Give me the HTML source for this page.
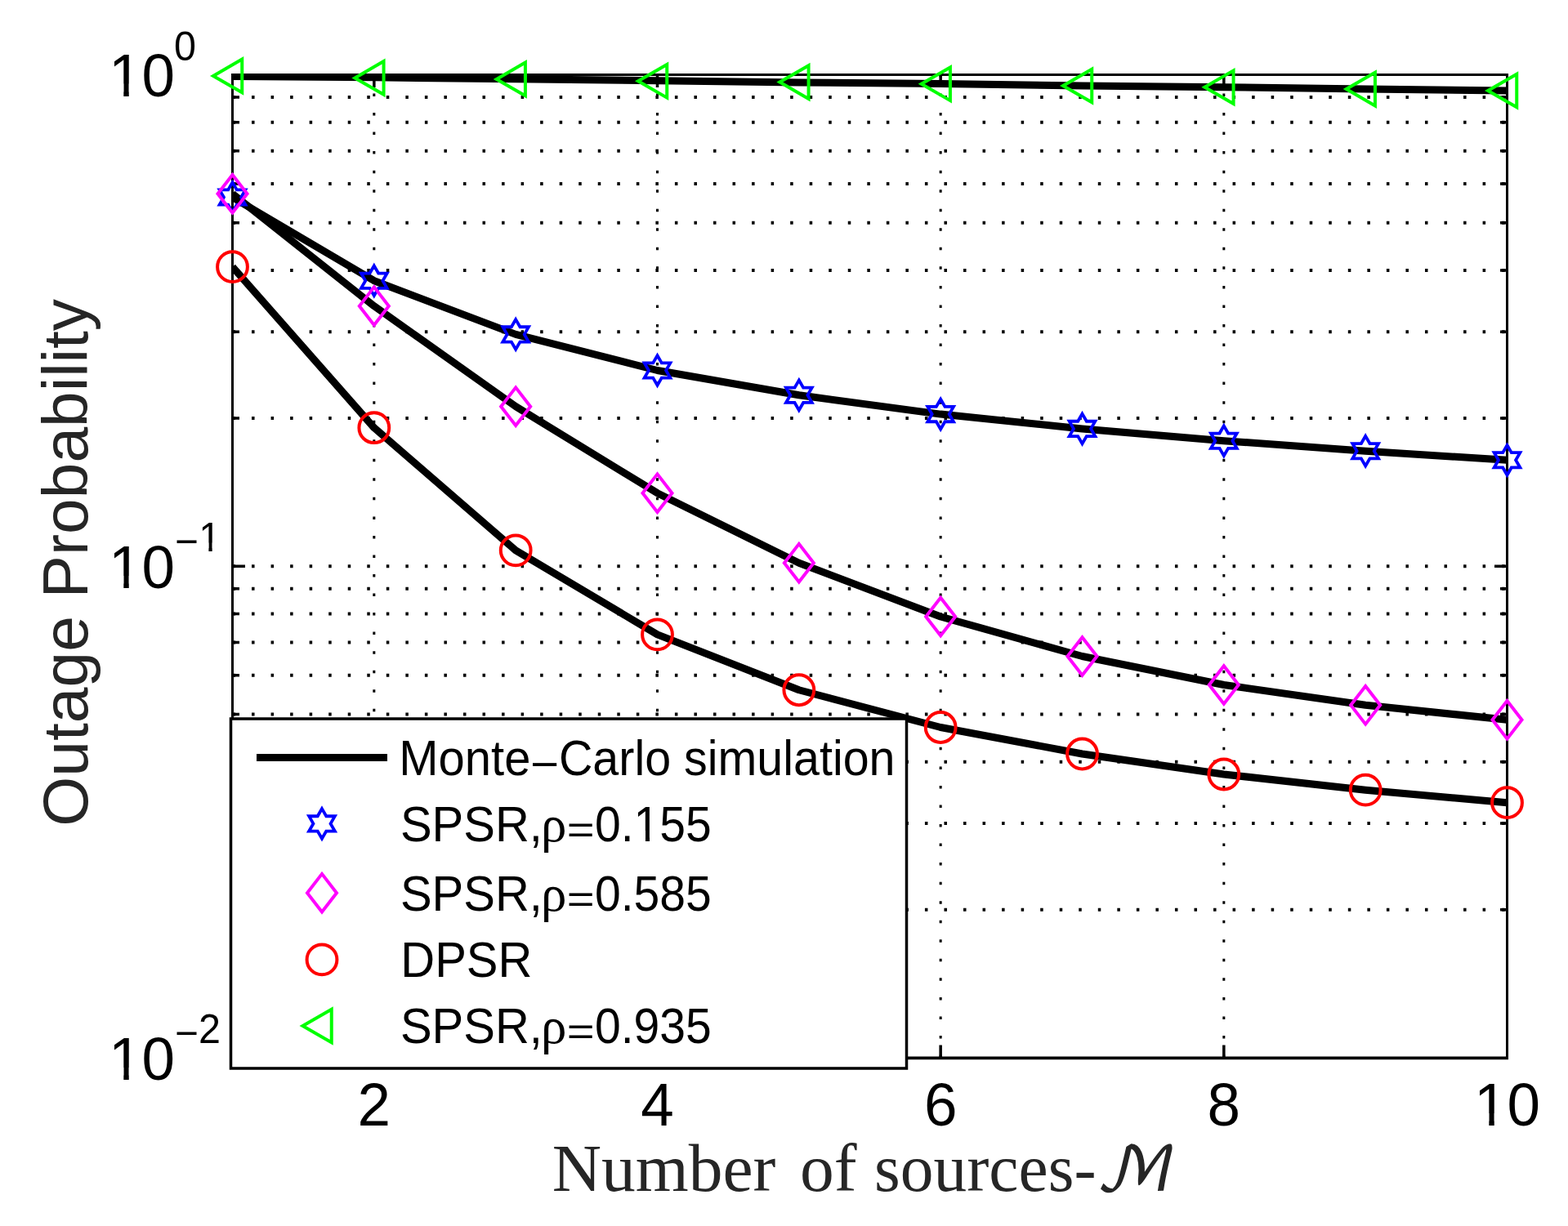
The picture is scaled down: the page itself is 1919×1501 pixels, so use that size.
<!DOCTYPE html><html><head><meta charset="utf-8"><style>html,body{margin:0;padding:0;background:#fff;overflow:hidden}svg{display:block}</style></head><body>
<svg width="1919" height="1501" viewBox="0 0 1919 1501">
<rect width="1919" height="1501" fill="#fff"/>
<path d="M284.5 1113.86H1844.5 M284.5 1007.89H1844.5 M284.5 932.71H1844.5 M284.5 874.39H1844.5 M284.5 826.75H1844.5 M284.5 786.46H1844.5 M284.5 751.57H1844.5 M284.5 720.78H1844.5 M284.5 693.25H1844.5 M284.5 512.11H1844.5 M284.5 406.14H1844.5 M284.5 330.96H1844.5 M284.5 272.64H1844.5 M284.5 225H1844.5 M284.5 184.71H1844.5 M284.5 149.82H1844.5 M284.5 119.03H1844.5" stroke="#000" stroke-width="4" stroke-dasharray="3.5 20.04" fill="none"/>
<path d="M457.83 1295.0V91.5 M804.5 1295.0V91.5 M1151.17 1295.0V91.5 M1497.83 1295.0V91.5" stroke="#000" stroke-width="3" stroke-dasharray="3.5 20.04" fill="none"/>
<path d="M457.83 1295.0v-15.5M457.83 91.5v15.5M804.5 1295.0v-15.5M804.5 91.5v15.5M1151.17 1295.0v-15.5M1151.17 91.5v15.5M1497.83 1295.0v-15.5M1497.83 91.5v15.5M284.5 1113.86h8.5M1844.5 1113.86h-8.5M284.5 1007.89h8.5M1844.5 1007.89h-8.5M284.5 932.71h8.5M1844.5 932.71h-8.5M284.5 874.39h8.5M1844.5 874.39h-8.5M284.5 826.75h8.5M1844.5 826.75h-8.5M284.5 786.46h8.5M1844.5 786.46h-8.5M284.5 751.57h8.5M1844.5 751.57h-8.5M284.5 720.78h8.5M1844.5 720.78h-8.5M284.5 693.25h15.5M1844.5 693.25h-15.5M284.5 512.11h8.5M1844.5 512.11h-8.5M284.5 406.14h8.5M1844.5 406.14h-8.5M284.5 330.96h8.5M1844.5 330.96h-8.5M284.5 272.64h8.5M1844.5 272.64h-8.5M284.5 225h8.5M1844.5 225h-8.5M284.5 184.71h8.5M1844.5 184.71h-8.5M284.5 149.82h8.5M1844.5 149.82h-8.5M284.5 119.03h8.5M1844.5 119.03h-8.5M284.5 693.25h15.5M1844.5 693.25h-15.5" stroke="#000" stroke-width="3.5" fill="none"/>
<path d="M284.5 90.0V1296.9M1844.5 90.0V1296.9M283.0 91.5H1846.0" stroke="#000" stroke-width="3" fill="none"/>
<path d="M283.0 1295.4H1846.0" stroke="#000" stroke-width="3.8" fill="none"/>
<clipPath id="ax"><rect x="283" y="90" width="1563" height="1207"/></clipPath>
<g clip-path="url(#ax)">
<path d="M284.5 93.5 L457.83 94.8 L631.17 96.8 L804.5 98.7 L977.83 100.9 L1151.17 102.5 L1324.5 105 L1497.83 106.7 L1671.17 109.1 L1844.5 111" stroke="#000" stroke-width="9" fill="none" stroke-linejoin="round"/>
<path d="M284.5 241.5 L457.83 343.7 L631.17 409.4 L804.5 453.5 L977.83 483.8 L1151.17 507.1 L1324.5 524.9 L1497.83 539.7 L1671.17 552.2 L1844.5 563.3" stroke="#000" stroke-width="9" fill="none" stroke-linejoin="round"/>
<path d="M284.5 237.3 L457.83 374.7 L631.17 497.7 L804.5 603.7 L977.83 689.2 L1151.17 755 L1324.5 803.5 L1497.83 838.5 L1671.17 863.3 L1844.5 881.3" stroke="#000" stroke-width="9" fill="none" stroke-linejoin="round"/>
<path d="M284.5 326.7 L457.83 523.7 L631.17 673.8 L804.5 776.9 L977.83 844.75 L1151.17 890.5 L1324.5 923 L1497.83 948 L1671.17 967.2 L1844.5 982.7" stroke="#000" stroke-width="9" fill="none" stroke-linejoin="round"/>
</g>
<g fill="none" stroke="#00ff00" stroke-width="4"><polygon points="261,92.9 296.25,72.55 296.25,113.25"/><polygon points="434.33,95.4 469.58,75.05 469.58,115.75"/><polygon points="607.67,96.9 642.92,76.55 642.92,117.25"/><polygon points="781,99.3 816.25,78.95 816.25,119.65"/><polygon points="954.33,100.6 989.58,80.25 989.58,120.95"/><polygon points="1127.67,102.8 1162.92,82.45 1162.92,123.15"/><polygon points="1301,105 1336.25,84.65 1336.25,125.35"/><polygon points="1474.33,106.7 1509.58,86.35 1509.58,127.05"/><polygon points="1647.67,109.1 1682.92,88.75 1682.92,129.45"/><polygon points="1821,111 1856.25,90.65 1856.25,131.35"/></g>
<g fill="none" stroke="#0000ff" stroke-width="3.8"><polygon points="284.5,223.2 289.78,232.35 300.35,232.35 295.07,241.5 300.35,250.65 289.78,250.65 284.5,259.8 279.22,250.65 268.65,250.65 273.93,241.5 268.65,232.35 279.22,232.35"/><polygon points="457.83,325.4 463.12,334.55 473.68,334.55 468.4,343.7 473.68,352.85 463.12,352.85 457.83,362 452.55,352.85 441.99,352.85 447.27,343.7 441.99,334.55 452.55,334.55"/><polygon points="631.17,391.1 636.45,400.25 647.01,400.25 641.73,409.4 647.01,418.55 636.45,418.55 631.17,427.7 625.88,418.55 615.32,418.55 620.6,409.4 615.32,400.25 625.88,400.25"/><polygon points="804.5,435.2 809.78,444.35 820.35,444.35 815.07,453.5 820.35,462.65 809.78,462.65 804.5,471.8 799.22,462.65 788.65,462.65 793.93,453.5 788.65,444.35 799.22,444.35"/><polygon points="977.83,465.5 983.12,474.65 993.68,474.65 988.4,483.8 993.68,492.95 983.12,492.95 977.83,502.1 972.55,492.95 961.99,492.95 967.27,483.8 961.99,474.65 972.55,474.65"/><polygon points="1151.17,488.8 1156.45,497.95 1167.01,497.95 1161.73,507.1 1167.01,516.25 1156.45,516.25 1151.17,525.4 1145.88,516.25 1135.32,516.25 1140.6,507.1 1135.32,497.95 1145.88,497.95"/><polygon points="1324.5,506.6 1329.78,515.75 1340.35,515.75 1335.07,524.9 1340.35,534.05 1329.78,534.05 1324.5,543.2 1319.22,534.05 1308.65,534.05 1313.93,524.9 1308.65,515.75 1319.22,515.75"/><polygon points="1497.83,521.4 1503.12,530.55 1513.68,530.55 1508.4,539.7 1513.68,548.85 1503.12,548.85 1497.83,558 1492.55,548.85 1481.99,548.85 1487.27,539.7 1481.99,530.55 1492.55,530.55"/><polygon points="1671.17,533.9 1676.45,543.05 1687.01,543.05 1681.73,552.2 1687.01,561.35 1676.45,561.35 1671.17,570.5 1665.88,561.35 1655.32,561.35 1660.6,552.2 1655.32,543.05 1665.88,543.05"/><polygon points="1844.5,545 1849.78,554.15 1860.35,554.15 1855.07,563.3 1860.35,572.45 1849.78,572.45 1844.5,581.6 1839.22,572.45 1828.65,572.45 1833.93,563.3 1828.65,554.15 1839.22,554.15"/></g>
<g fill="none" stroke="#ff00ff" stroke-width="4"><polygon points="284.5,214 302.5,237.3 284.5,260.6 266.5,237.3"/><polygon points="457.83,351.4 475.83,374.7 457.83,398 439.83,374.7"/><polygon points="631.17,474.4 649.17,497.7 631.17,521 613.17,497.7"/><polygon points="804.5,580.4 822.5,603.7 804.5,627 786.5,603.7"/><polygon points="977.83,665.9 995.83,689.2 977.83,712.5 959.83,689.2"/><polygon points="1151.17,731.7 1169.17,755 1151.17,778.3 1133.17,755"/><polygon points="1324.5,780.2 1342.5,803.5 1324.5,826.8 1306.5,803.5"/><polygon points="1497.83,815.2 1515.83,838.5 1497.83,861.8 1479.83,838.5"/><polygon points="1671.17,840 1689.17,863.3 1671.17,886.6 1653.17,863.3"/><polygon points="1844.5,858 1862.5,881.3 1844.5,904.6 1826.5,881.3"/></g>
<g fill="none" stroke="#ff0000" stroke-width="4"><circle cx="284.5" cy="326.7" r="18.4"/><circle cx="457.83" cy="523.7" r="18.4"/><circle cx="631.17" cy="673.8" r="18.4"/><circle cx="804.5" cy="776.9" r="18.4"/><circle cx="977.83" cy="844.75" r="18.4"/><circle cx="1151.17" cy="890.5" r="18.4"/><circle cx="1324.5" cy="923" r="18.4"/><circle cx="1497.83" cy="948" r="18.4"/><circle cx="1671.17" cy="967.2" r="18.4"/><circle cx="1844.5" cy="982.7" r="18.4"/></g>
<rect x="282.5" y="880" width="827.0" height="428" fill="#fff" stroke="#000" stroke-width="3.5"/>
<path d="M314 927.5H474" stroke="#000" stroke-width="9"/>
<g fill="none" stroke="#0000ff" stroke-width="3.8"><polygon points="394,990.1 399.28,999.25 409.85,999.25 404.57,1008.4 409.85,1017.55 399.28,1017.55 394,1026.7 388.72,1017.55 378.15,1017.55 383.43,1008.4 378.15,999.25 388.72,999.25"/></g>
<g fill="none" stroke="#ff00ff" stroke-width="4"><polygon points="394,1069.9 412,1093.2 394,1116.5 376,1093.2"/></g>
<g fill="none" stroke="#ff0000" stroke-width="4"><circle cx="394" cy="1174.9" r="18.4"/></g>
<g fill="none" stroke="#00ff00" stroke-width="4"><polygon points="370.5,1256 405.75,1235.65 405.75,1276.35"/></g>
<g font-family="Liberation Sans, sans-serif" font-size="58" fill="#000">
<text transform="translate(488.2,949.4) scale(1,1.055)">Monte</text>
<text transform="translate(651.9,951.1) scale(0.906,1)">&#8211;</text>
<text transform="translate(683.9,949.4) scale(0.99,1.055)">Carlo simulation</text>
<text transform="translate(489.9,1029.6) scale(1,1.055)">SPSR,</text>
<text x="661.9" y="1029.6" font-family="Liberation Serif, serif" font-size="63">&#961;</text>
<text transform="translate(693.7,1031.6) scale(1,0.82)">=</text>
<text transform="translate(728,1029.6) scale(0.984,1.055)">0.155</text>
<text transform="translate(489.9,1114.9) scale(1,1.055)">SPSR,</text>
<text x="661.9" y="1114.9" font-family="Liberation Serif, serif" font-size="63">&#961;</text>
<text transform="translate(693.7,1116.9) scale(1,0.82)">=</text>
<text transform="translate(728,1114.9) scale(0.984,1.055)">0.585</text>
<text transform="translate(489.9,1276.9) scale(1,1.055)">SPSR,</text>
<text x="661.9" y="1276.9" font-family="Liberation Serif, serif" font-size="63">&#961;</text>
<text transform="translate(693.7,1278.9) scale(1,0.82)">=</text>
<text transform="translate(728,1276.9) scale(0.984,1.055)">0.935</text>
<text transform="translate(490.3,1195.9) scale(1,1.055)">DPSR</text>
</g>
<g font-family="Liberation Sans, sans-serif" font-size="72.8" fill="#000" text-anchor="middle">
<text transform="translate(457.83,1378) scale(1,1.01)">2</text>
<text transform="translate(804.5,1378) scale(1,1.01)">4</text>
<text transform="translate(1151.17,1378) scale(1,1.01)">6</text>
<text transform="translate(1497.83,1378) scale(1,1.01)">8</text>
<text transform="translate(1844.5,1378) scale(1,1.01)">10</text>
</g>
<g font-family="Liberation Sans, sans-serif" fill="#000">
<text transform="translate(133,117.5) scale(1,1.01)" font-size="72.8">10</text>
<text transform="translate(133,720) scale(1,1.01)" font-size="72.8">10</text>
<text transform="translate(133,1322) scale(1,1.01)" font-size="72.8">10</text>
<text transform="translate(213,74.3) scale(1,1.035)" font-size="48.5">0</text>
<text transform="translate(214,680.2) scale(1.02,1.035)" font-size="48.5">&#8722;</text>
<text transform="translate(243.2,674.75) scale(1,1.035)" font-size="48.5">1</text>
<text transform="translate(214,1282.2) scale(1.02,1.035)" font-size="48.5">&#8722;</text>
<text transform="translate(243,1276.9) scale(1,1.035)" font-size="48.5">2</text>
</g>
<path d="M778.94 1030.35H789.95V1017.05H778.94Z M794.99 1030.35H805.55V1017.05H794.99Z M1808.28 1378.9H1822.32V1362.92H1808.28Z M1828.75 1378.9H1842.22V1362.92H1828.75Z M137.27 118.4H151.31V102.42H137.27Z M157.74 118.4H171.21V102.42H157.74Z M137.27 720.9H151.31V704.92H137.27Z M157.74 720.9H171.21V704.92H157.74Z M137.27 1322.9H151.31V1306.92H137.27Z M157.74 1322.9H171.21V1306.92H157.74Z M246.04 675.36H255.4V664.46H246.04Z M259.68 675.36H268.66V664.46H259.68Z" fill="#fff"/>
<text transform="translate(106.8,688.8) rotate(-90)" text-anchor="middle" font-family="Liberation Sans, sans-serif" font-size="78.5" fill="#262626">Outage Probability</text>
<g font-family="Liberation Serif, serif" font-size="83.5" fill="#262626"><text x="675.7" y="1458.1">Number</text><text x="978.9" y="1458.1">of</text><text transform="translate(1070,1458.1) scale(0.976,1)">sources-</text></g>
<text transform="translate(1340.8,1457.8) scale(1.05,1)" font-family="DejaVu Math TeX Gyre, DejaVu Sans, serif" font-size="75" fill="#262626">&#x2133;</text>
</svg></body></html>
